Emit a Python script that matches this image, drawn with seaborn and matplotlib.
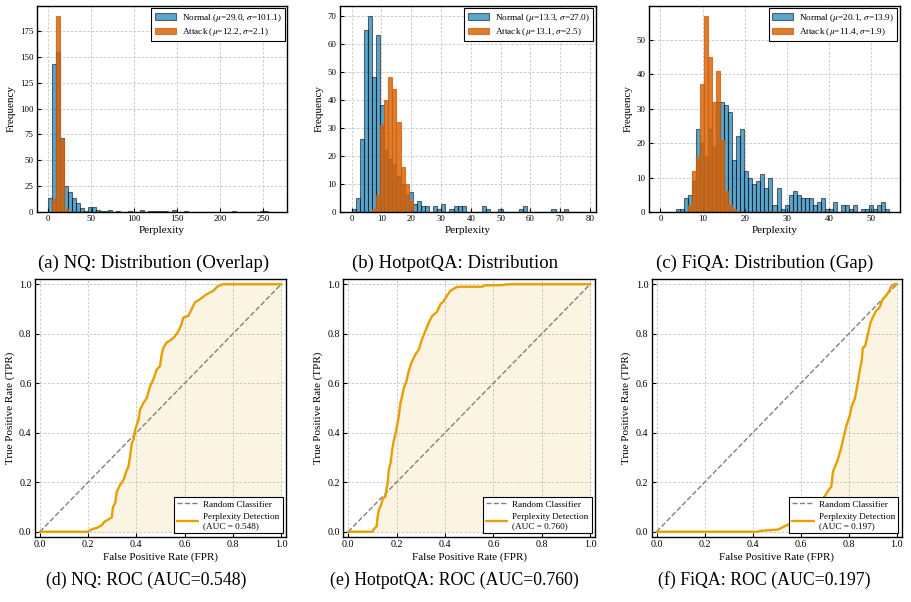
import numpy as np
import pandas as pd
import matplotlib
matplotlib.use("Agg")
import matplotlib.pyplot as plt
import seaborn as sns

# ---------------- data ----------------
datasets = ["NQ", "HotpotQA", "FiQA"]
bin_ranges = [(0, 265), (0, 78), (0, 54.2)]

nq_normal = [14, 143, 155, 72, 25, 19, 14, 9, 4, 1, 5, 5, 2, 1, 1, 2, 0, 1, 0, 0,
             1, 0, 0, 2, 0, 1, 1, 1, 1, 1, 0, 2, 0, 0, 1, 0, 0, 0, 0, 0,
             0, 0, 0, 0, 0, 0, 1, 0, 0, 0, 0, 0, 0, 1, 1, 0, 0]
nq_attack = [0, 13, 190, 70, 3] + [0] * 52

hp_normal = [1, 5, 26, 65, 70, 48, 63, 38, 22, 19, 17, 13, 10, 6, 7, 3, 4, 2, 2, 0,
             2, 1, 3, 0, 1, 2, 2, 2, 0, 0, 0, 0, 2, 1, 0, 0, 1, 0, 0, 0,
             0, 1, 2, 0, 0, 0, 0, 0, 0, 1, 0, 0, 1, 0, 0, 0, 0]
hp_attack = [0, 0, 0, 0, 0, 1, 6, 31, 40, 48, 44, 32, 16, 10, 4] + [0] * 42

fq_normal = [0, 0, 0, 0, 1, 1, 4, 5, 9, 24, 20, 16, 24, 19, 32, 32, 31, 29, 15, 22,
             24, 12, 10, 8, 9, 11, 7, 10, 2, 7, 1, 2, 5, 6, 5, 4, 4, 4, 2, 3,
             4, 1, 1, 3, 0, 2, 2, 1, 2, 0, 1, 1, 2, 1, 2, 3, 1]
fq_attack = [0, 0, 0, 0, 0, 0, 0, 2, 12, 16, 37, 57, 45, 32, 41, 21, 6, 2, 1] + [0] * 38

normal_counts = [nq_normal, hp_normal, fq_normal]
attack_counts = [nq_attack, hp_attack, fq_attack]
normal_stats = [(29.0, 101.1), (13.3, 27.0), (20.1, 13.9)]
attack_stats = [(12.2, 2.1), (13.1, 2.5), (11.4, 1.9)]

hist_captions = ["(a) NQ: Distribution (Overlap)", "(b) HotpotQA: Distribution",
                 "(c) FiQA: Distribution (Gap)"]
roc_captions = ["(d) NQ: ROC (AUC=0.548)", "(e) HotpotQA: ROC (AUC=0.760)",
                "(f) FiQA: ROC (AUC=0.197)"]
auc_values = [0.548, 0.760, 0.197]

nq_fpr = [0, 0.198, 0.216, 0.237, 0.257, 0.267, 0.285, 0.298, 0.303, 0.312, 0.319,
          0.333, 0.347, 0.358, 0.367, 0.374, 0.381, 0.388, 0.395, 0.409, 0.415,
          0.429, 0.443, 0.457, 0.47, 0.484, 0.498, 0.505, 0.512, 0.525, 0.546,
          0.56, 0.574, 0.587, 0.594, 0.615, 0.629, 0.642, 0.663, 0.69, 0.718,
          0.739, 0.759, 1.0]
nq_tpr = [0, 0, 0.01, 0.016, 0.027, 0.04, 0.05, 0.058, 0.10, 0.115, 0.162,
          0.19, 0.21, 0.243, 0.263, 0.304, 0.358, 0.372, 0.412, 0.453, 0.493,
          0.52, 0.54, 0.588, 0.615, 0.655, 0.669, 0.716, 0.743, 0.764, 0.777,
          0.79, 0.81, 0.838, 0.865, 0.872, 0.899, 0.926, 0.939, 0.959, 0.973,
          0.993, 1.0, 1.0]

hp_fpr = [0, 0.099, 0.109, 0.117, 0.122, 0.127, 0.136, 0.144, 0.154, 0.158, 0.164,
          0.168, 0.175, 0.182, 0.188, 0.199, 0.209, 0.216, 0.223, 0.23, 0.241,
          0.25, 0.264, 0.278, 0.292, 0.305, 0.319, 0.333, 0.347, 0.367, 0.381,
          0.395, 0.408, 0.422, 0.443, 0.457, 0.553, 0.567, 0.629, 0.663, 1.0]
hp_tpr = [0, 0, 0.014, 0.02, 0.061, 0.088, 0.108, 0.135, 0.142, 0.169, 0.203,
          0.25, 0.277, 0.331, 0.365, 0.412, 0.466, 0.52, 0.547, 0.581, 0.608,
          0.649, 0.689, 0.716, 0.736, 0.777, 0.811, 0.845, 0.872, 0.888, 0.919,
          0.932, 0.953, 0.973, 0.986, 0.99, 0.99, 0.996, 0.996, 1.0, 1.0]

fq_fpr = [0, 0.417, 0.437, 0.506, 0.534, 0.554, 0.582, 0.61, 0.63, 0.651, 0.672,
          0.699, 0.716, 0.727, 0.734, 0.743, 0.754, 0.768, 0.779, 0.789, 0.803,
          0.812, 0.826, 0.837, 0.844, 0.854, 0.858, 0.868, 0.879, 0.89, 0.903,
          0.913, 0.927, 0.941, 0.954, 0.968, 0.978, 0.989, 1.0]
fq_tpr = [0, 0, 0.004, 0.009, 0.023, 0.031, 0.04, 0.05, 0.068, 0.088, 0.115,
          0.142, 0.169, 0.182, 0.243, 0.264, 0.291, 0.338, 0.385, 0.426, 0.466,
          0.507, 0.541, 0.601, 0.642, 0.696, 0.743, 0.75, 0.797, 0.845, 0.872,
          0.892, 0.905, 0.939, 0.953, 0.973, 0.993, 1.0, 1.0]

roc_fpr = [nq_fpr, hp_fpr, fq_fpr]
roc_tpr = [nq_tpr, hp_tpr, fq_tpr]

# ---------------- style ----------------
BLUE = "#0072B2"
VERM = "#D55E00"
GOLD = "#E69F00"

sns.set_style("ticks")
plt.rcParams.update({
    "font.family": "serif",
    "font.serif": ["Liberation Serif", "DejaVu Serif"],
    "mathtext.fontset": "stix",
    "axes.edgecolor": "black",
    "axes.linewidth": 1.0,
    "xtick.color": "black",
    "ytick.color": "black",
    "axes.labelcolor": "black",
    "text.color": "black",
})

W, H = 911, 602
fig = plt.figure(figsize=(W / 100, H / 100), dpi=100)

def px_axes(l, t, r, b):
    return fig.add_axes([l / W, 1 - b / H, (r - l) / W, (b - t) / H])

hist_boxes = [(36.7, 5.7, 287.3, 212), (340, 5.7, 595.7, 212), (649, 5.7, 900, 212)]
roc_boxes = [(35, 279.3, 286, 536.7), (343.3, 279.3, 595, 536.7), (651.7, 279.3, 901.7, 536.7)]
hist_cap_x = [154, 455, 765]
roc_cap_x = [146.5, 454, 764]

def style_axes(ax, tsize):
    ax.grid(True, linestyle=(0, (3, 2)), linewidth=0.6, color="#c4c4c4")
    ax.set_axisbelow(True)
    ax.tick_params(direction="in", length=3, width=0.8, labelsize=tsize, pad=2.5)
    for s in ax.spines.values():
        s.set_visible(True)
        s.set_color("black")
        s.set_linewidth(1.0)

for i in range(3):
    ax = px_axes(*hist_boxes[i])
    lo, hi = bin_ranges[i]
    edges = np.linspace(lo, hi, len(normal_counts[i]) + 1)
    centers = (edges[:-1] + edges[1:]) / 2
    df = pd.DataFrame({"ppl": centers, "normal": normal_counts[i], "attack": attack_counts[i]})
    nm, ns = normal_stats[i]
    am, asd = attack_stats[i]
    sns.histplot(data=df, x="ppl", weights="normal", bins=list(edges), ax=ax,
                 color=BLUE, alpha=0.64, edgecolor=(0, 0, 0, 0.55), linewidth=0.8,
                 label=f"Normal ($\\mu$={nm:.1f}, $\\sigma$={ns:.1f})")
    sns.histplot(data=df, x="ppl", weights="attack", bins=list(edges), ax=ax,
                 color=VERM, alpha=0.8, edgecolor=(213/255, 94/255, 0, 0.8), linewidth=0.8,
                 label=f"Attack ($\\mu$={am:.1f}, $\\sigma$={asd:.1f})")
    style_axes(ax, 6.3)
    ax.set_xlabel("Perplexity", fontsize=8, labelpad=2)
    ax.set_ylabel("Frequency", fontsize=8, labelpad=3)
    leg = ax.legend(loc="upper right", fontsize=6.7, frameon=True, fancybox=False,
                    edgecolor="black", framealpha=1, borderaxespad=0.3,
                    handlelength=2.3, handletextpad=0.6, borderpad=0.35, labelspacing=0.25)
    leg.get_frame().set_linewidth(0.8)
    fig.text(hist_cap_x[i] / W, 1 - 263 / H, hist_captions[i], ha="center", va="center",
             fontsize=13.5)

for i in range(3):
    ax = px_axes(*roc_boxes[i])
    fpr = roc_fpr[i]
    tpr = roc_tpr[i]
    sns.lineplot(x=[0, 1], y=[0, 1], ax=ax, color="gray", linestyle="--", linewidth=1.0,
                 label="Random Classifier")
    sns.lineplot(x=fpr, y=tpr, ax=ax, color=GOLD, linewidth=1.7, estimator=None, sort=False,
                 label=f"Perplexity Detection\n(AUC = {auc_values[i]:.3f})")
    ax.fill_between(fpr, tpr, color=GOLD, alpha=0.11, linewidth=0)
    ax.set_xlim(-0.02, 1.02)
    ax.set_ylim(-0.02, 1.02)
    ax.set_xticks(np.arange(0, 1.01, 0.2))
    ax.set_yticks(np.arange(0, 1.01, 0.2))
    style_axes(ax, 7.2)
    ax.set_xlabel("False Positive Rate (FPR)", fontsize=8, labelpad=2)
    ax.set_ylabel("True Positive Rate (TPR)", fontsize=8, labelpad=3)
    leg = ax.legend(loc="lower right", fontsize=6.6, frameon=True, fancybox=False,
                    edgecolor="black", framealpha=1, borderaxespad=0.35,
                    handlelength=2.3, handletextpad=0.6, borderpad=0.35, labelspacing=0.5)
    leg.get_frame().set_linewidth(0.8)
    fig.text(roc_cap_x[i] / W, 1 - 580 / H, roc_captions[i], ha="center", va="center",
             fontsize=12.8)

fig.savefig("out.png", dpi=100)
